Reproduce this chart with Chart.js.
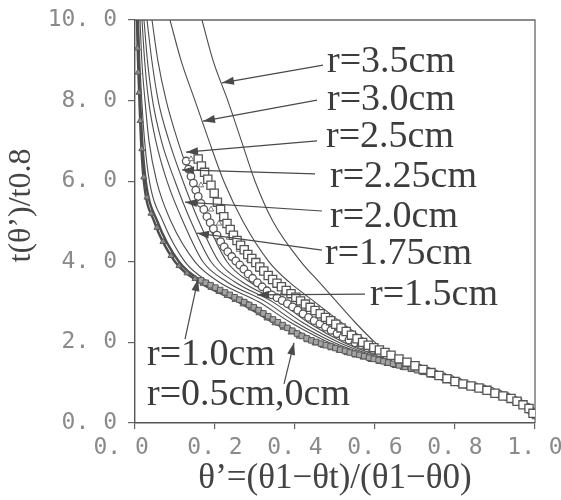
<!DOCTYPE html>
<html><head><meta charset="utf-8">
<script src="https://cdn.jsdelivr.net/npm/chart.js@4.4.0/dist/chart.umd.min.js"></script>
<style>html,body{margin:0;padding:0;background:#fff;}#wrap{width:561px;height:500px;}</style>
</head><body><div id="wrap"><canvas id="c" width="561" height="500"></canvas></div>
<script>
// ---- axes ----
const xTicks = [0, 0.2, 0.4, 0.6, 0.8, 1.0];
const yTicks = [0, 2, 4, 6, 8, 10];
const xTitle = 'θ’=(θ1−θt)/(θ1−θ0)';
const yTitle = 't(θ’)/t0.8';

// ---- curves: x read at these y levels, then a common tail ----
const yLevels = [10, 9, 8, 7, 6, 5, 4, 3.5, 3, 2.5, 2, 1.6];
const xR0   = [0.005, 0.0075, 0.011, 0.015, 0.022, 0.048, 0.100, 0.160, 0.260, 0.345, 0.450, 0.580];
const xR05  = [0.006, 0.009, 0.013, 0.018, 0.027, 0.056, 0.110, 0.170, 0.270, 0.352, 0.456, 0.585];
const xR10  = [0.009, 0.012, 0.017, 0.024, 0.036, 0.070, 0.125, 0.185, 0.285, 0.365, 0.468, 0.590];
const xR15  = [0.0125, 0.017, 0.025, 0.035, 0.054, 0.090, 0.150, 0.210, 0.310, 0.388, 0.485, 0.600];
const xR175 = [0.0175, 0.024, 0.034, 0.052, 0.080, 0.120, 0.170, 0.230, 0.328, 0.402, 0.497, 0.608];
const xR20  = [0.0225, 0.031, 0.044, 0.066, 0.100, 0.140, 0.190, 0.250, 0.345, 0.418, 0.510, 0.616];
const xR225 = [0.030, 0.042, 0.058, 0.085, 0.120, 0.160, 0.210, 0.268, 0.362, 0.432, 0.522, 0.624];
const xR25  = [0.0425, 0.057, 0.078, 0.107, 0.142, 0.180, 0.230, 0.287, 0.380, 0.448, 0.535, 0.632];
const xR30  = [0.0875, 0.115, 0.150, 0.185, 0.222, 0.270, 0.335, 0.385, 0.450, 0.515, 0.585, 0.640];
const xR35  = [0.1675, 0.195, 0.232, 0.266, 0.300, 0.345, 0.415, 0.460, 0.505, 0.550, 0.600, 0.650];
const tailX = [0.70, 0.75, 0.80, 0.85, 0.90, 0.95, 0.98, 1.00];
const tailY = [1.30, 1.17, 1.03, 0.90, 0.76, 0.58, 0.42, 0.12];

// ---- measured points ----
const sqX = [0.158,0.166,0.174,0.182,0.19,0.198,0.206,0.214,0.222,0.23,0.238,0.246,0.255,0.264,0.273,0.282,0.292,0.302,0.312,0.322,0.333,0.344,0.355,0.366,0.378,0.39,0.402,0.414,0.426,0.438,0.45,0.463,0.476,0.489,0.502,0.515,0.528,0.541,0.555,0.569,0.583,0.597,0.611,0.625,0.64,0.66,0.68,0.70,0.72,0.74,0.76,0.78,0.80,0.82,0.84,0.86,0.88,0.90,0.92,0.94,0.955,0.97,0.985,0.995];
const sqY = [6.55,6.38,6.22,6.05,5.9,5.7,5.48,5.3,5.12,4.95,4.8,4.66,4.53,4.41,4.3,4.18,4.08,3.98,3.87,3.77,3.66,3.56,3.47,3.38,3.29,3.21,3.12,3.03,2.95,2.87,2.79,2.71,2.62,2.54,2.45,2.36,2.27,2.18,2.09,2.0,1.93,1.87,1.81,1.75,1.68,1.59,1.51,1.42,1.33,1.25,1.18,1.1,1.03,0.97,0.92,0.87,0.81,0.74,0.67,0.61,0.54,0.45,0.36,0.24];
const ciX = [0.128,0.134,0.14,0.146,0.152,0.158,0.165,0.172,0.18,0.188,0.196,0.205,0.214,0.223,0.232,0.242,0.252,0.262,0.272,0.283,0.294,0.306,0.318,0.33,0.342,0.355,0.368,0.381,0.394,0.407,0.42,0.434,0.448,0.462,0.476,0.49,0.505,0.52,0.535,0.55,0.565,0.58,0.595,0.61,0.63,0.65,0.67,0.69,0.71,0.73,0.75,0.77,0.79,0.81,0.83,0.85,0.87,0.89,0.91,0.93,0.95,0.97,0.99];
const ciY = [6.5,6.3,6.12,5.95,5.78,5.62,5.45,5.3,5.12,4.97,4.82,4.66,4.5,4.37,4.25,4.13,4.02,3.92,3.82,3.7,3.59,3.48,3.38,3.28,3.18,3.11,3.04,2.96,2.88,2.8,2.71,2.62,2.54,2.46,2.38,2.3,2.22,2.13,2.06,1.99,1.93,1.87,1.81,1.75,1.67,1.59,1.51,1.43,1.36,1.29,1.22,1.15,1.08,1.01,0.95,0.9,0.85,0.79,0.72,0.65,0.56,0.46,0.3];
const trX = [0.14,0.165,0.19,0.21,0.235,0.26,0.285,0.31,0.34,0.37,0.40,0.43,0.46,0.49,0.52,0.55,0.58,0.61];
const trY = [6.55,5.9,5.3,4.95,4.6,4.3,4.05,3.8,3.5,3.25,3.05,2.85,2.65,2.48,2.3,2.12,1.97,1.82];
const lowTrX = [0.006,0.008,0.01,0.013,0.017,0.022,0.03,0.04,0.055,0.07,0.09,0.11,0.13,0.15,0.17,0.19,0.21,0.23,0.25,0.27,0.29,0.31,0.33,0.35,0.37,0.39,0.41,0.43,0.45,0.47,0.49,0.51,0.53,0.55,0.57,0.59,0.61,0.63,0.65,0.67,0.69,0.72,0.75,0.78,0.81,0.84,0.87,0.90,0.93,0.96,0.98,1.0];
const lowTrY = [9.3,8.7,8.2,7.5,6.8,6.1,5.6,5.2,4.85,4.5,4.15,3.9,3.72,3.58,3.46,3.36,3.26,3.16,3.06,2.95,2.85,2.73,2.6,2.48,2.37,2.25,2.15,2.06,1.98,1.92,1.86,1.8,1.74,1.68,1.63,1.57,1.52,1.47,1.42,1.37,1.32,1.25,1.17,1.09,1.0,0.92,0.85,0.76,0.66,0.53,0.4,0.15];
const lowSqX = [0.165,0.177,0.189,0.201,0.213,0.225,0.237,0.249,0.261,0.273,0.285,0.297,0.309,0.321,0.333,0.345,0.357,0.369,0.381,0.393,0.405,0.417,0.429,0.441,0.453,0.465,0.477,0.489,0.501,0.513,0.525,0.537,0.549,0.561,0.573,0.585,0.597,0.609,0.621,0.633,0.645,0.66,0.675,0.69,0.705,0.72,0.74,0.76,0.78,0.80,0.82,0.84,0.86,0.88,0.90,0.92,0.94,0.96,0.98,0.995];
const lowSqY = [3.54,3.48,3.42,3.36,3.3,3.24,3.18,3.12,3.06,3.0,2.93,2.87,2.8,2.72,2.65,2.57,2.5,2.43,2.36,2.29,2.22,2.16,2.1,2.05,2.01,1.97,1.93,1.9,1.86,1.82,1.79,1.75,1.72,1.69,1.66,1.62,1.59,1.56,1.53,1.5,1.47,1.43,1.39,1.35,1.31,1.27,1.21,1.15,1.1,1.04,0.98,0.93,0.88,0.82,0.76,0.7,0.63,0.54,0.42,0.26];

// ---- annotations (data coordinates) ----
const labelText = ['r=3.5cm','r=3.0cm','r=2.5cm','r=2.25cm','r=2.0cm','r=1.75cm','r=1.5cm','r=1.0cm','r=0.5cm,0cm'];
const labelX = [0.48, 0.48, 0.4775, 0.4875, 0.4875, 0.475, 0.5875, 0.03, 0.03];
const labelY = [8.71, 7.77, 6.85, 5.86, 4.86, 3.95, 2.93, 1.44, 0.45];
const lineFromX = [0.47, 0.455, 0.455, 0.45, 0.4675, 0.4675, 0.575, 0.125, 0.3725];
const lineFromY = [8.88, 8.01, 7.0, 6.18, 5.26, 4.29, 3.2, 2.08, 0.97];
const arrowX = [0.2175, 0.17, 0.1275, 0.1175, 0.125, 0.155, 0.305, 0.1575, 0.3975];
const arrowY = [8.44, 7.49, 6.72, 6.28, 5.48, 4.71, 3.18, 3.57, 1.99];

function curve(xs){
  const pts = xs.map((v,i)=>({x:v, y:yLevels[i]}));
  return pts.concat(tailX.map((v,i)=>({x:v, y:tailY[i]})));
}
function pts(xs, ys){ return xs.map((v,i)=>({x:v, y:ys[i]})); }

const LINE = '#4d4d4d';
const curveSets = [xR35, xR30, xR25, xR225, xR20, xR175, xR15, xR10, xR05, xR0];
const datasets = curveSets.map((xs, i) => ({
  data: curve(xs), showLine: true, pointRadius: 0, borderColor: LINE,
  borderWidth: (i >= 8) ? 2.4 : 1.1, cubicInterpolationMode: 'monotone', order: 5
}));
datasets.push({data: pts(lowTrX, lowTrY), pointStyle:'triangle', pointRadius:3.5, borderColor:'#5a5a5a', backgroundColor:'#8c8c8c', borderWidth:1, order:4});
datasets.push({data: pts(lowSqX, lowSqY), pointStyle:'rect', pointRadius:3.9, borderColor:'#5a5a5a', backgroundColor:'#a4a4a4', borderWidth:1, order:3});
datasets.push({data: pts(ciX, ciY), pointStyle:'circle', pointRadius:3.8, borderColor:'#555', backgroundColor:'#fff', borderWidth:1.3, order:3});
datasets.push({data: pts(trX, trY), pointStyle:'triangle', pointRadius:3.2, borderColor:'#777', backgroundColor:'#fff', borderWidth:1, order:2});
datasets.push({data: pts(sqX, sqY), pointStyle:'rect', pointRadius:5.8, borderColor:'#555', backgroundColor:'#fff', borderWidth:1.3, order:1});

const fmt = v => Number(v).toFixed(1).replace('.', '. ');
const fmtX = v => (v === 0 ? fmt(v) + '  ' : fmt(v));

const framePlugin = {
  id:'frame',
  beforeDatasetsDraw(chart){
    const {ctx, chartArea:a} = chart;
    ctx.save(); ctx.strokeStyle='#666'; ctx.lineWidth=1.3;
    ctx.beginPath(); ctx.moveTo(a.left, a.top); ctx.lineTo(a.right, a.top); ctx.lineTo(a.right, a.bottom); ctx.stroke();
    ctx.restore();
  }
};
const annotPlugin = {
  id:'annot',
  afterDatasetsDraw(chart){
    const {ctx, scales:{x, y}} = chart;
    ctx.save();
    ctx.font = '38px "Liberation Serif", "Times New Roman", serif';
    ctx.fillStyle = '#3c3c3c'; ctx.strokeStyle = '#4a4a4a'; ctx.lineWidth = 1.2;
    ctx.textAlign = 'left'; ctx.textBaseline = 'alphabetic';
    labelText.forEach((t, i) => {
      ctx.fillText(t, x.getPixelForValue(labelX[i]), y.getPixelForValue(labelY[i]));
      const x0 = x.getPixelForValue(lineFromX[i]), y0 = y.getPixelForValue(lineFromY[i]);
      const x1 = x.getPixelForValue(arrowX[i]), y1 = y.getPixelForValue(arrowY[i]);
      ctx.beginPath(); ctx.moveTo(x0, y0); ctx.lineTo(x1, y1); ctx.stroke();
      const ang = Math.atan2(y1 - y0, x1 - x0), L = 12, W = 4;
      const bx = x1 - L*Math.cos(ang), by = y1 - L*Math.sin(ang);
      ctx.beginPath(); ctx.moveTo(x1, y1);
      ctx.lineTo(bx + W*Math.sin(ang), by - W*Math.cos(ang));
      ctx.lineTo(bx - W*Math.sin(ang), by + W*Math.cos(ang));
      ctx.closePath(); ctx.fillStyle = '#4a4a4a'; ctx.fill();
      ctx.fillStyle = '#3c3c3c';
    });
    ctx.restore();
  }
};

new Chart(document.getElementById('c'), {
  type: 'scatter',
  data: { datasets },
  options: {
    responsive: false, animation: false, devicePixelRatio: 1,
    layout: { padding: { top: 20, right: 26, left: 0, bottom: 0 } },
    plugins: { legend: { display: false }, tooltip: { enabled: false } },
    scales: {
      x: {
        type: 'linear', min: 0, max: 1,
        afterBuildTicks: s => { s.ticks = xTicks.map(v => ({ value: v })); },
        afterFit: s => { s.height = 77; s.paddingLeft = 0; s.paddingRight = 0; },
        ticks: { callback: fmtX, font: { family: 'DejaVu Sans Mono', size: 23 }, color: '#8a8a8a', padding: 5, maxRotation: 0, autoSkip: false },
        grid: { drawOnChartArea: false, drawTicks: true, tickLength: 6, color: '#666', lineWidth: 1.2 },
        border: { display: true, color: '#555', width: 1.4 },
        title: { display: true, text: xTitle, font: { family: 'Liberation Serif', size: 35 }, color: '#444', padding: { top: 0, bottom: 0 } }
      },
      y: {
        type: 'linear', min: 0, max: 10,
        afterBuildTicks: s => { s.ticks = yTicks.map(v => ({ value: v })); },
        afterFit: s => { s.width = 135; s.paddingTop = 0; s.paddingBottom = 0; },
        ticks: { callback: fmt, font: { family: 'DejaVu Sans Mono', size: 23 }, color: '#8a8a8a', padding: 11 },
        grid: { drawOnChartArea: false, drawTicks: true, tickLength: 7, color: '#666', lineWidth: 1.2 },
        border: { display: true, color: '#555', width: 1.4 },
        title: { display: true, text: '    ' + yTitle, font: { family: 'Liberation Serif', size: 32 }, color: '#444', padding: { top: 2, bottom: 0 } }
      }
    }
  },
  plugins: [framePlugin, annotPlugin]
});
</script>
</body></html>
